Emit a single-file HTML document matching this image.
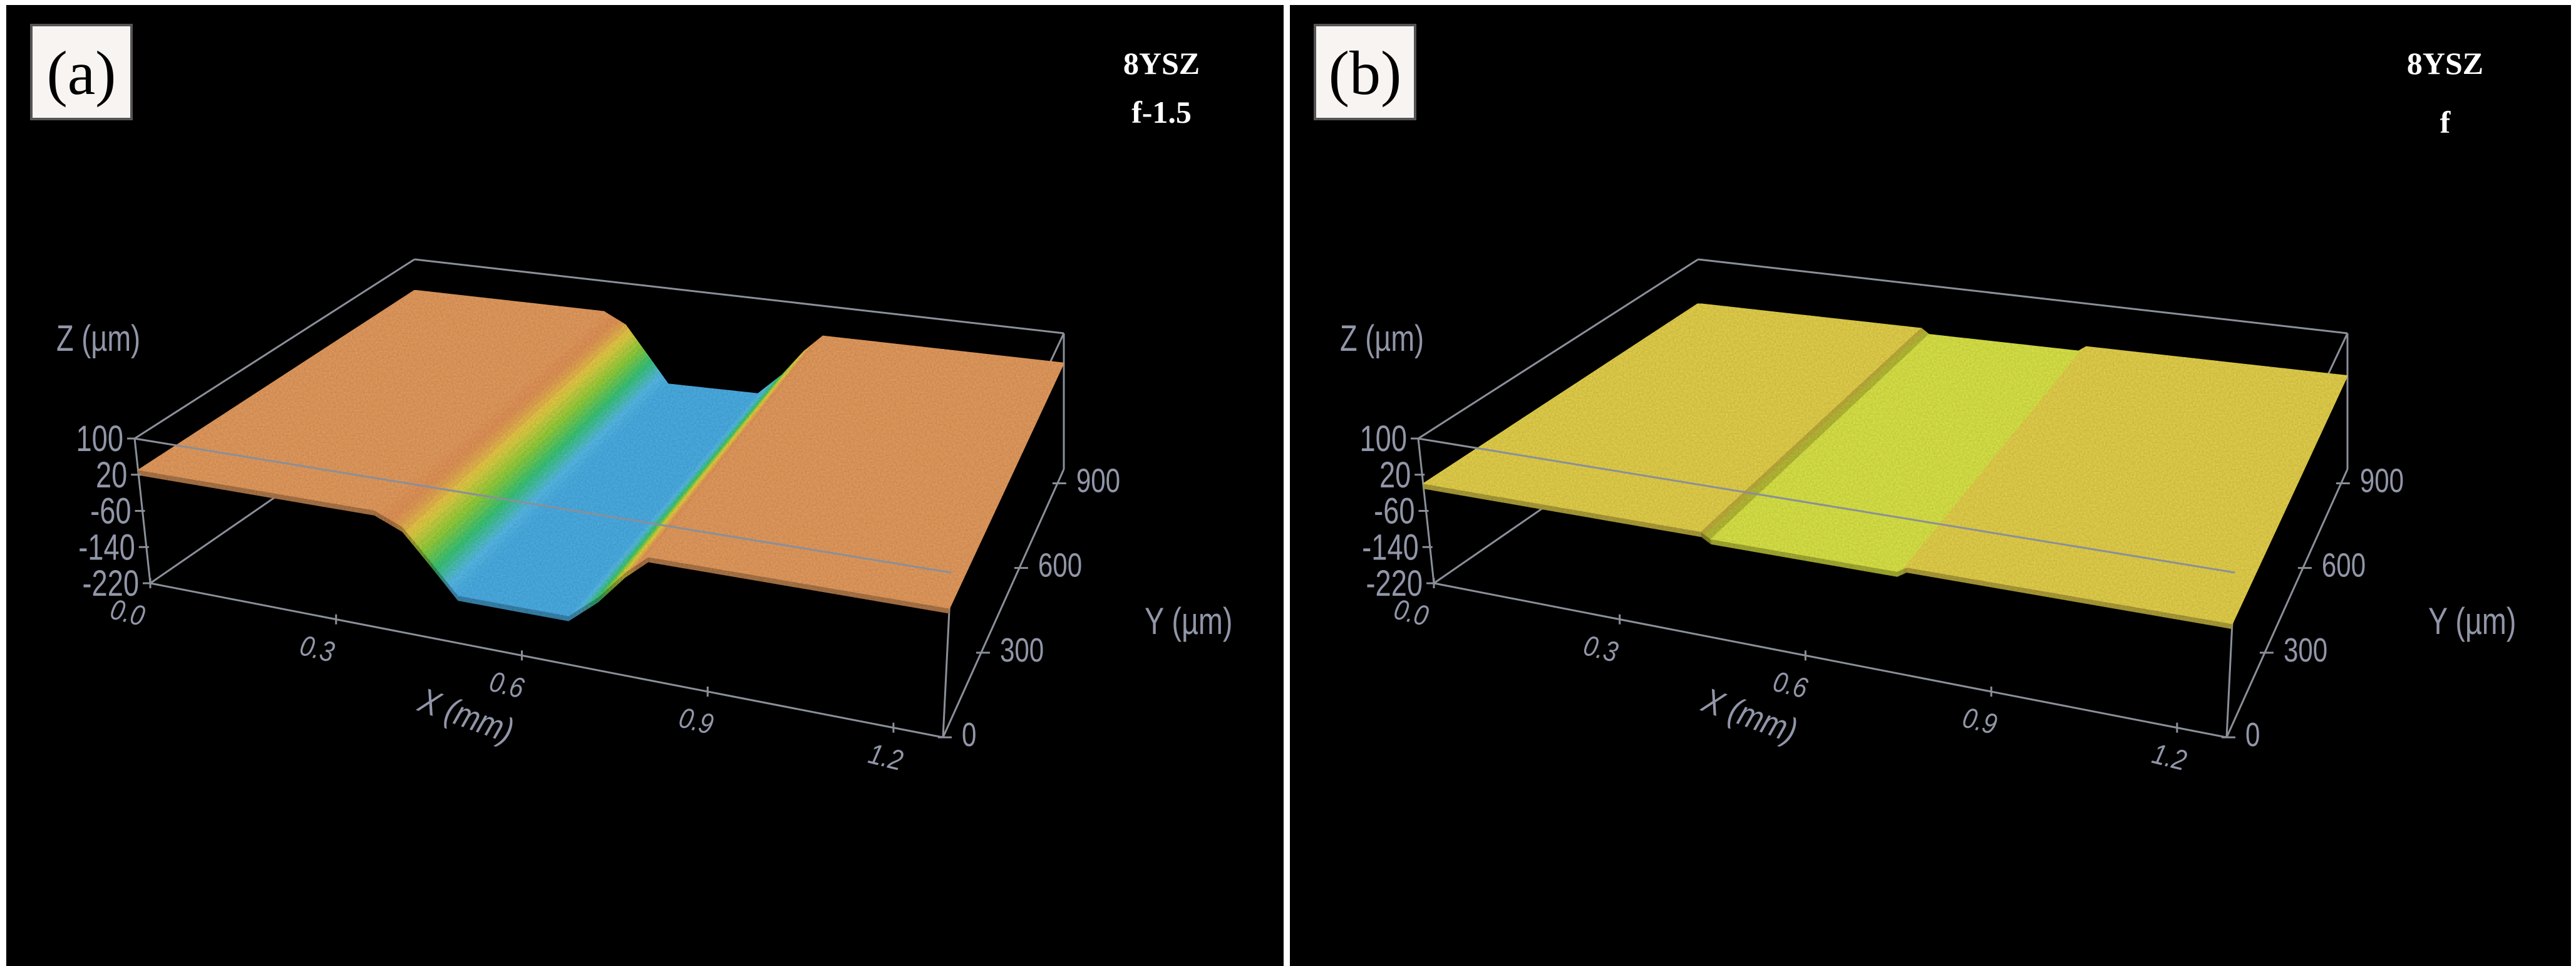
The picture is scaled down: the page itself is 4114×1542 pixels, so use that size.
<!DOCTYPE html>
<html><head><meta charset="utf-8">
<style>
html,body{margin:0;padding:0;background:#fff;}
svg{display:block;}
</style></head>
<body>
<svg id="fig" width="4114" height="1542" viewBox="0 0 4114 1542" xmlns="http://www.w3.org/2000/svg">
  <defs>
    <filter id="grain" x="0" y="0" width="100%" height="100%">
      <feTurbulence type="fractalNoise" baseFrequency="0.35" numOctaves="2" seed="3" result="n"/>
      <feColorMatrix in="n" type="matrix" values="0 0 0 0 0  0 0 0 0 0  0 0 0 0 0  0 0 0 0.35 0" result="dark"/>
      <feComposite in="dark" in2="SourceGraphic" operator="in" result="d2"/>
      <feMerge><feMergeNode in="SourceGraphic"/><feMergeNode in="d2"/></feMerge>
    </filter>
  </defs>
  <rect x="0" y="0" width="4114" height="1542" fill="#ffffff"/>
  <g id="panelA"></g>
  <g id="panelB"></g>
</svg>
<script>
// ---- data ----
const zTicks = [100, 20, -60, -140, -220];
const xTicks = [0.0, 0.3, 0.6, 0.9, 1.2];
const xTickLabels = ["0.0", "0.3", "0.6", "0.9", "1.2"];
const yTicks = [0, 300, 600, 900];
const profileAX = [0, 0.373, 0.416, 0.46, 0.50, 0.677, 0.725, 0.768, 0.805, 1.28];
const profileAZ = [30, 30, 5, -60, -120, -120, -70, -10, 30, 30];
const profileBX = [0, 0.44, 0.455, 0.75, 0.765, 1.28];
const profileBZ = [0, 0, -12, -12, 0, 0];

const NS = "http://www.w3.org/2000/svg";
const C = {FBL:[230,931],FBR:[1496,1177],BBL:[652,640],BBR:[1689,749],
           FTL:[205,700],FTR:[1509,914],BTL:[652,414],BTR:[1689,532]};
const XMAX = 1.28, YMAX = 950, ZMIN = -220, ZMAX = 100;
function lerp(a,b,t){return [a[0]+(b[0]-a[0])*t, a[1]+(b[1]-a[1])*t];}
function proj(x,y,z,ox){
  const u=x/XMAX, v=y/YMAX, w=(z-ZMIN)/(ZMAX-ZMIN);
  const fb=lerp(C.FBL,C.FBR,u), bb=lerp(C.BBL,C.BBR,u);
  const ft=lerp(C.FTL,C.FTR,u), bt=lerp(C.BTL,C.BTR,u);
  const b=lerp(fb,bb,v), t=lerp(ft,bt,v);
  const p=lerp(b,t,w);
  return [p[0]+ox,p[1]];
}
function el(tag,attrs,parent){
  const e=document.createElementNS(NS,tag);
  for(const k in attrs) e.setAttribute(k,attrs[k]);
  parent.appendChild(e); return e;
}
function mix(c1,c2,t){return c1.map((v,i)=>Math.round(v+(c2[i]-v)*t));}
function colA(z){
  const stops=[[-130,[70,170,230]],[-100,[90,190,235]],[-70,[60,200,120]],[-40,[150,210,60]],[-10,[235,210,70]],[15,[230,150,90]],[40,[234,164,102]]];
  if(z<=stops[0][0]) return stops[0][1];
  for(let i=1;i<stops.length;i++){ if(z<=stops[i][0]){const t=(z-stops[i-1][0])/(stops[i][0]-stops[i-1][0]); return mix(stops[i-1][1],stops[i][1],t);} }
  return stops[stops.length-1][1];
}
function colB(z){ return z<-5 ? [222,232,72] : [232,212,78]; }

function drawPanel(g, ox, label, line1, line2, px, pz, colf){
  el('rect',{x:ox,y:8,width:(ox===10?2040:2046),height:1534,fill:'#000',},g);
  el('rect',{x:ox+40,y:40,width:160,height:150,fill:'#f7f4f2',stroke:'#555','stroke-width':4,},g);
  const lt=el('text',{x:ox+120,y:150,'font-family':'Liberation Serif, serif','font-size':100,'text-anchor':'middle',fill:'#000'},g);
  
  
  lt.textContent=label;
  const t1=el('text',{x:ox+1845,y:118,'font-family':'Liberation Serif, serif','font-size':50,'font-weight':'bold','text-anchor':'middle',fill:'#fff'},g);
  
  
  t1.textContent=line1;
  const t2=el('text',{x:ox+1845,y:line2==='f'?212:196,'font-family':'Liberation Serif, serif','font-size':50,'font-weight':'bold','text-anchor':'middle',fill:'#fff'},g);
  
  
  t2.textContent=line2;

  const P=(a)=>[a[0]+ox,a[1]];
  const ln=(a,b,name)=>{const l=el('line',{x1:P(a)[0],y1:P(a)[1],x2:P(b)[0],y2:P(b)[1],stroke:'#8a8f99','stroke-width':3},g);return l;};
  ln(C.BTL,C.BTR,'box-edge-back-top');
  ln(C.BTL,C.FTL,'box-edge-left-top');
  ln(C.BTR,C.FTR,'box-edge-right-top');
  ln(C.BTR,C.BBR,'box-edge-back-right');
  ln(C.FBL,C.BBL,'box-edge-left-bottom');
  ln(C.FTL,C.FBL,'z-axis-line');
  ln(C.FBL,C.FBR,'x-axis-line');
  ln(C.FBR,C.BBR,'y-axis-line');
  ln(C.FTR,C.FBR,'box-edge-front-right');

  const sg=el('g',{filter:'url(#grain)'},g);
  
  
  for(let i=0;i<px.length-1;i++){
    const N=8;
    for(let k=0;k<N;k++){
      const xa=px[i]+(px[i+1]-px[i])*k/N, xb=px[i]+(px[i+1]-px[i])*(k+1)/N;
      const za=pz[i]+(pz[i+1]-pz[i])*k/N, zb=pz[i]+(pz[i+1]-pz[i])*(k+1)/N;
      const a=proj(xa,0,za,ox), b=proj(xb,0,zb,ox), c=proj(xb,YMAX,zb,ox), d=proj(xa,YMAX,za,ox);
      let col=colf((za+zb)/2);
      if(zb<za-1 && colf===colB) col=mix(col,[120,110,30],0.35);
      const s=el('polygon',{points:[a,b,c,d].map(p=>p.join(',')).join(' '),fill:'rgb('+col.join(',')+')',stroke:'rgb('+col.join(',')+')','stroke-width':1.5},sg);
      
      
      const ff=el('polygon',{points:[a,b,[b[0],b[1]+8],[a[0],a[1]+8]].map(p=>p.join(',')).join(' '),fill:'rgb('+mix(col,[0,0,0],0.25).join(',')+')'},sg);
      
      
    }
  }
  ln(C.FTL,C.FTR,'box-edge-front-top');

  const txt=(x,y,s,size,name,anchor,rot,italic,sx)=>{
    const t=el('text',{x:0,y:0,'font-family':'Liberation Sans, sans-serif','font-size':size,fill:'#9196a8','text-anchor':anchor||'start'},g);
    if(italic) t.setAttribute('font-style','italic');
    t.setAttribute('transform','translate('+x+','+y+') rotate('+(rot||0)+') scale('+(sx||0.78)+',1)');
    
    
    t.textContent=s; return t;
  };
  zTicks.forEach(z=>{
    const p=proj(0,0,z,ox);
    const tk=el('line',{x1:p[0]-12,y1:p[1],x2:p[0]+4,y2:p[1],stroke:'#8a8f99','stroke-width':3},g);
    
    
    txt(p[0]-18,p[1]+20,String(z),58,'z-tick-label','end');
  });
  xTicks.forEach((x,i)=>{
    const p=proj(x,0,ZMIN,ox);
    const tk=el('line',{x1:p[0],y1:p[1]-8,x2:p[0],y2:p[1]+8,stroke:'#8a8f99','stroke-width':3},g);
    
    
    txt(p[0]-40+i*6,p[1]+62,xTickLabels[i],46,'x-tick-label','middle',14,true,0.85);
  });
  yTicks.forEach(y=>{
    const p=proj(XMAX,y,ZMIN,ox);
    const tk=el('line',{x1:p[0]-8,y1:p[1],x2:p[0]+14,y2:p[1],stroke:'#8a8f99','stroke-width':3},g);
    
    
    txt(p[0]+30,p[1]+14,String(y),54,'y-tick-label','start');
  });
  txt(ox+80,560,'Z (µm)',58,'z-axis-title','start');
  txt(ox+1818,1012,'Y (µm)',60,'y-axis-title','start');
  txt(ox+728,1160,'X (mm)',56,'x-axis-title','middle',20,true,0.85);
}
drawPanel(document.getElementById('panelA'),10,'(a)','8YSZ','f-1.5',profileAX,profileAZ,colA);
drawPanel(document.getElementById('panelB'),2060,'(b)','8YSZ','f',profileBX,profileBZ,colB);
</script>
</body></html>
